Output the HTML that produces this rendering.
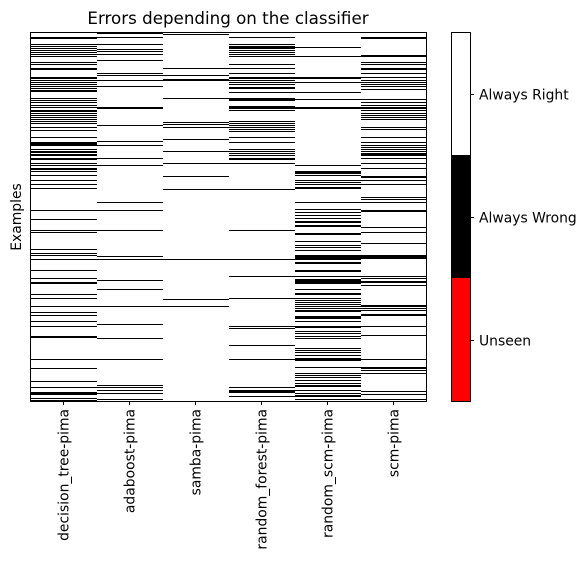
<!DOCTYPE html>
<html><head><meta charset="utf-8"><style>
body{margin:0;background:#fff;}
svg text{font-family:"DejaVu Sans","Liberation Sans",sans-serif;fill:#000;}
#cells rect,#cbar rect{shape-rendering:crispEdges;}
</style></head><body>
<svg id="chart" width="588" height="562" xmlns="http://www.w3.org/2000/svg">
<rect x="0" y="0" width="588" height="562" fill="#fff"/>
<text x="228" y="24" font-size="16.7" text-anchor="middle">Errors depending on the classifier</text>
<text transform="translate(21,217) rotate(-90)" font-size="13.9" text-anchor="middle">Examples</text>
<g id="cells"></g>
<rect x="30.5" y="32.5" width="396" height="369" fill="none" stroke="#000" stroke-width="1"/>
<g id="xticks"></g>
<g id="cbar"></g>
</svg>
<script>
const columns = ["decision_tree-pima","adaboost-pima","samba-pima","random_forest-pima","random_scm-pima","scm-pima"];
const nRows = 369;
// black rows per classifier as [startRow, length]
const blackDecisionTree = [[5,2],[12,1],[14,1],[16,1],[18,1],[20,1],[22,1],[24,1],[30,1],[32,1],[36,2],[45,2],[48,1],[50,1],[52,1],[54,1],[56,1],[58,2],[66,1],[68,1],[70,1],[73,1],[75,1],[78,2],[81,1],[83,1],[85,1],[87,1],[89,1],[91,1],[95,1],[98,1],[105,1],[110,4],[117,1],[119,2],[122,1],[123,1],[126,2],[131,1],[133,1],[136,2],[139,1],[143,1],[148,1],[152,1],[156,1],[178,1],[187,1],[198,1],[200,1],[217,1],[221,1],[223,1],[227,1],[238,1],[246,1],[250,2],[262,1],[266,1],[274,1],[280,1],[283,1],[289,1],[294,1],[304,2],[327,1],[336,1],[349,1],[355,1],[360,3],[366,1],[368,1]];
const blackAdaboost = [[1,1],[5,1],[12,1],[17,1],[19,1],[22,1],[28,1],[41,1],[43,1],[48,1],[54,1],[75,2],[93,1],[109,1],[113,1],[126,1],[133,1],[170,1],[178,1],[198,1],[224,1],[227,1],[248,1],[257,1],[274,1],[292,1],[306,1],[327,1],[353,1],[355,1],[358,1],[361,1],[367,1]];
const blackSamba = [[2,1],[36,1],[43,1],[47,1],[48,1],[66,1],[90,1],[92,1],[95,1],[107,1],[119,1],[131,1],[144,1],[157,1],[227,1],[267,1],[274,1]];
const blackRandomForest = [[5,1],[12,1],[14,2],[16,1],[18,1],[20,1],[22,1],[24,1],[32,1],[36,1],[41,1],[45,2],[48,1],[50,1],[52,1],[55,2],[60,1],[66,2],[68,1],[74,3],[78,1],[89,1],[91,1],[93,1],[95,1],[97,1],[99,1],[105,1],[110,1],[117,1],[119,1],[121,1],[123,1],[126,2],[131,1],[157,1],[198,1],[227,1],[244,1],[266,1],[294,1],[296,1],[313,1],[327,1],[355,1],[358,3],[364,1]];
const blackRandomScm = [[15,1],[24,1],[45,2],[50,1],[60,1],[67,1],[75,2],[133,1],[139,3],[143,1],[148,1],[150,1],[152,1],[155,2],[170,1],[177,1],[180,1],[183,1],[186,1],[189,2],[193,2],[201,2],[209,1],[213,1],[215,1],[218,1],[223,4],[227,1],[230,2],[238,2],[244,1],[247,5],[257,1],[261,2],[266,1],[268,1],[270,1],[272,1],[274,1],[276,1],[278,2],[284,3],[289,1],[294,2],[299,1],[301,1],[304,1],[306,1],[316,1],[318,1],[320,1],[323,1],[326,3],[335,1],[341,1],[343,1],[345,1],[348,1],[351,1],[353,2],[358,1],[361,1],[363,2],[367,1]];
const blackScm = [[5,2],[23,2],[30,1],[32,1],[36,2],[41,1],[45,1],[48,1],[50,1],[52,1],[54,1],[57,1],[67,1],[70,1],[73,1],[75,2],[78,1],[81,1],[83,1],[85,1],[87,1],[95,1],[97,1],[105,1],[110,1],[113,1],[115,1],[117,1],[119,1],[121,1],[122,2],[126,1],[131,1],[136,1],[144,2],[148,1],[152,1],[165,1],[167,1],[170,1],[178,2],[195,1],[200,1],[211,1],[223,4],[244,1],[246,1],[249,2],[253,1],[273,2],[276,1],[278,1],[282,2],[294,1],[303,1],[327,1],[335,2],[338,1],[341,1],[359,1],[362,1],[367,1]];
const seriesBlack = [blackDecisionTree,blackAdaboost,blackSamba,blackRandomForest,blackRandomScm,blackScm];
const cbarLabels = ["Unseen","Always Wrong","Always Right"];
const cbarColors = ["#ff0000","#000000","#ffffff"];

const NS="http://www.w3.org/2000/svg";
const plotX=31, plotY=32, plotW=396, plotH=369;
const colW=plotW/columns.length, rowH=plotH/nRows;
const xPos=i=>plotX+i*colW;
const yPos=r=>plotY+r*rowH;
const cells=document.getElementById('cells');
seriesBlack.forEach((arr,ci)=>{
  arr.forEach(([s,l])=>{
    const r=document.createElementNS(NS,'rect');
    r.setAttribute('x',xPos(ci));r.setAttribute('y',Math.round(yPos(s)));
    r.setAttribute('width',colW);r.setAttribute('height',Math.max(1,Math.round(l*rowH)));
    r.setAttribute('fill','#000');
    
    
    cells.appendChild(r);
  });
});
const xt=document.getElementById('xticks');
columns.forEach((c,i)=>{
  const cx=Math.round(xPos(i)+colW/2)-0.5;
  const t=document.createElementNS(NS,'line');
  t.setAttribute('x1',cx);t.setAttribute('x2',cx);t.setAttribute('y1',plotY+plotH);t.setAttribute('y2',plotY+plotH+4);
  t.setAttribute('stroke','#000');
  
  
  xt.appendChild(t);
  const tx=document.createElementNS(NS,'text');
  tx.setAttribute('transform',`translate(${cx+5},${plotY+plotH+8}) rotate(-90)`);
  tx.setAttribute('text-anchor','end');tx.setAttribute('font-size','13.9');
  tx.textContent=c;
  
  
  xt.appendChild(tx);
});
const cb=document.getElementById('cbar');
const cbX=452, cbW=18, segH=plotH/cbarLabels.length;
cbarLabels.forEach((lab,i)=>{
  const y=plotY+plotH-(i+1)*segH;
  const r=document.createElementNS(NS,'rect');
  r.setAttribute('x',cbX);r.setAttribute('y',y);r.setAttribute('width',cbW);r.setAttribute('height',segH);
  r.setAttribute('fill',cbarColors[i]);
  
  
  cb.appendChild(r);
  const cy=Math.round(y+segH/2)+0.5;
  const t=document.createElementNS(NS,'line');
  t.setAttribute('x1',cbX+cbW);t.setAttribute('x2',cbX+cbW+4);t.setAttribute('y1',cy);t.setAttribute('y2',cy);
  t.setAttribute('stroke','#000');
  
  
  cb.appendChild(t);
  const tx=document.createElementNS(NS,'text');
  tx.setAttribute('x',cbX+cbW+9);tx.setAttribute('y',cy+5);tx.setAttribute('font-size','13.9');
  tx.textContent=lab;
  
  
  cb.appendChild(tx);
});
const fr=document.createElementNS(NS,'rect');
fr.setAttribute('x',cbX-0.5);fr.setAttribute('y',plotY+0.5);fr.setAttribute('width',cbW+1);fr.setAttribute('height',plotH);
fr.setAttribute('fill','none');fr.setAttribute('stroke','#000');


cb.appendChild(fr);
</script>
</body></html>
